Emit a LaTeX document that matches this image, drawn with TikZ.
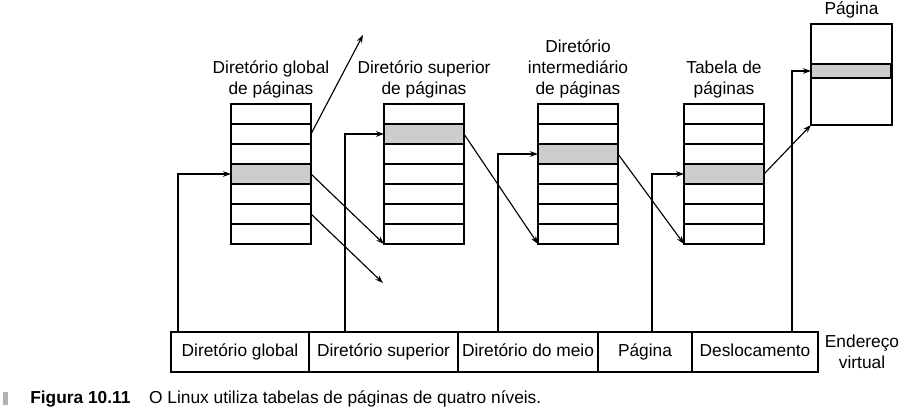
\documentclass[tikz,border=0pt]{standalone}
\usepackage{fontspec}
\setmainfont{Liberation Sans}
\usepackage{tikz}
\usetikzlibrary{
  positioning,
  arrows.meta
}
\tikzset{
  >={Stealth[length=6pt, width=4.2pt]},
  x=0.75pt, y=-0.75pt,
  every node/.style={font=\fontsize{13}{15.75}\selectfont},
  entry/.style={draw, line width=1.1pt, minimum width=60pt, minimum height=15pt, inner sep=0pt, outer sep=0pt},
  chosen/.style={entry, fill=gray!40},
  frame/.style={draw, line width=1.7pt},
  field/.style={draw, line width=0.9pt, minimum height=30pt, text height=9.4pt, text depth=2.7pt, inner sep=0pt, outer sep=0pt},
  title/.style={align=center, inner sep=0pt},
  link/.style={->, line width=0.85pt}
}

\begin{document}
\begin{tikzpicture}
    \useasboundingbox (0,0) rectangle (901,416);
    % the four tables
    \foreach \t/\x/\s in {g/271/4, u/424/2, m/578/3, t/724/4} {
      \foreach \i in {1,...,7}
        \node[entry] (\t\i) at (\x, 94+20*\i) {};
      \node[chosen] (sel\t) at (\t\s) {};
      \draw[frame] (\t1.north west) rectangle (\t7.south east);
    }
    \node[chosen, minimum height=10.5pt] (selp) at (851, 71) {};
    \node[frame, minimum width=60.75pt, minimum height=75.75pt, inner sep=0pt, outer sep=0pt] (pg) at (851.5, 74.5) {};
    \node[title, above=4.5pt of g1] (lg) {Diretório global\\de páginas};
    \node[title, above=4.5pt of u1] (lu) {Diretório superior\\de páginas};
    \node[title, above=4.5pt of m1] (lm) {Diretório\\intermediário\\de páginas};
    \node[title, above=4.5pt of t1] (lt) {Tabela de\\páginas};
    \node[title, above=4.5pt of pg] (lp) {Página};
    % virtual address
    \node[field, minimum width=103.5pt] (ag) at (240, 352) {Diretório global};
    \node[field, minimum width=111.75pt, right=0pt of ag] (au) {Diretório superior};
    \node[field, minimum width=105pt, right=0pt of au] (am) {Diretório do meio};
    \node[field, minimum width=70.5pt, right=0pt of am] (ap) {Página};
    \node[field, minimum width=94.5pt, right=0pt of ap] (ad) {Deslocamento};
    \node[title, right=5pt of ad] (va) {Endereço\\virtual};
    % connectors
    \draw[link] (ag.north west) ++(7,0) |- (selg.west);
    \draw[link] (au.north west) ++(36,0) |- (selu.west);
    \draw[link] (am.north west) ++(40,0) |- (selm.west);
    \draw[link] (ap.north west) ++(54,0) |- (selt.west);
    \draw[link] (ad.north west) ++(100,0) |- (selp.west);
    \draw[link] (selg.east) -- (u7.south west);
    \draw[link] (selu.east) -- (m7.south west);
    \draw[link] (selm.east) -- (t7.south west);
    \draw[link] (selt.east) -- (pg.south west);
    \coordinate (up) at (363,35);
    \coordinate (down) at (383,283);
    \draw[link] (g2.east) -- (up);
    \draw[link] (g6.east) -- (down);
    % caption
    \fill[gray!60] (3,392) rectangle (8,405);
    \node[anchor=base west, inner sep=0pt] (cap) at (30,404) {\textbf{Figura 10.11}\hspace{14pt}O Linux utiliza tabelas de páginas de quatro níveis.};
  \end{tikzpicture}
\end{document}
